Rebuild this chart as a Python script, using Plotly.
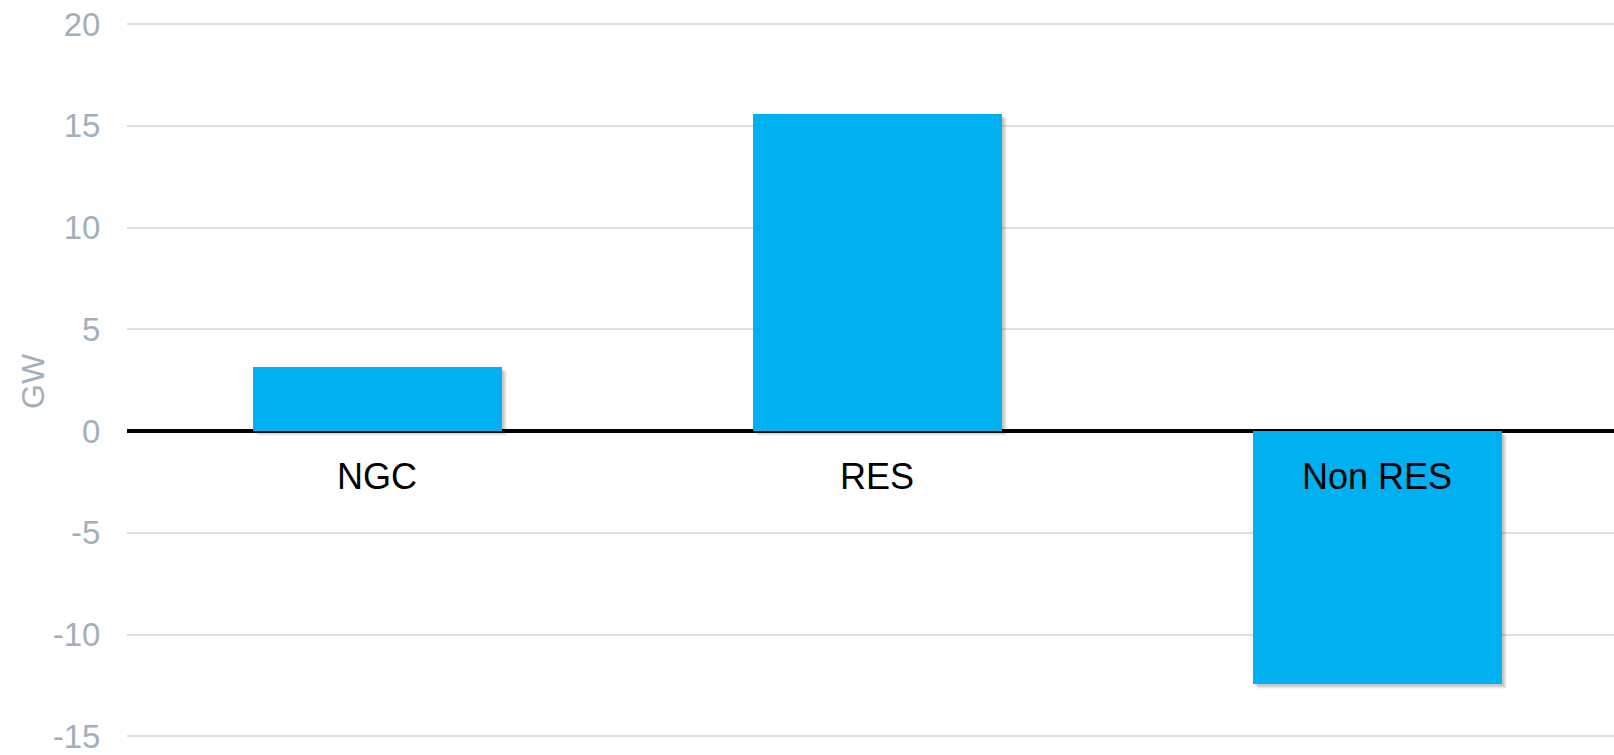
import plotly.graph_objects as go

# Net change in installed capacity by group
categories = ["NGC", "RES", "Non RES"]
values_gw = [3.13, 15.57, -12.45]

# Y axis ticks
tick_vals = [20, 15, 10, 5, 0, -5, -10, -15]
tick_labels = ["20", "15", "10", "5", "0", "-5", "-10", "-15"]

BAR_COLOR = "#00B0F0"
AXIS_TEXT = "#A2B0BB"
FONT = "Arial, Liberation Sans, sans-serif"

W, H = 1614, 755
LEFT = 127
X_RANGE = [-0.5, -0.5 + (W - LEFT) / 500]
Y_RANGE = [-15.72, 21.18]

fig = go.Figure()

# soft drop shadow behind each bar (shifted a few px right and down)
px_per_unit = H / (Y_RANGE[1] - Y_RANGE[0])
for dx, dy, alpha in [(5, 5, 0.05), (4, 4, 0.07), (3, 3, 0.09), (2, 2, 0.10)]:
    fig.add_trace(go.Bar(
        x=categories,
        y=values_gw,
        base=[-dy / px_per_unit] * len(values_gw),
        width=0.498,
        offset=-0.249 + dx / 500,
        marker=dict(color=f"rgba(60,60,60,{alpha})", line=dict(width=0)),
        hoverinfo="skip",
        showlegend=False,
    ))

fig.add_trace(go.Bar(
    x=categories,
    y=values_gw,
    width=0.498,
    marker=dict(color=BAR_COLOR, line=dict(width=0)),
    showlegend=False,
))

# category names sit just under the zero line
for cat in categories:
    fig.add_annotation(
        x=cat, y=0, xref="x", yref="y",
        text=cat, showarrow=False,
        yanchor="middle", yshift=-45,
        font=dict(family=FONT, size=36, color="#000000"),
    )

# y axis title
fig.add_annotation(
    x=(33 - LEFT) / (W - LEFT),
    y=1 - 383 / H,
    xref="paper", yref="paper",
    xanchor="center", yanchor="middle",
    text="GW", showarrow=False, textangle=-90,
    font=dict(family=FONT, size=32, color=AXIS_TEXT),
)

fig.update_layout(
    width=W, height=H,
    margin=dict(l=LEFT, r=0, t=0, b=0),
    paper_bgcolor="white",
    plot_bgcolor="white",
    barmode="overlay",
    bargap=0,
    xaxis=dict(
        type="category",
        range=X_RANGE,
        showticklabels=False,
        showgrid=False,
        zeroline=False,
        showline=False,
        fixedrange=True,
    ),
    yaxis=dict(
        range=Y_RANGE,
        tickvals=tick_vals,
        ticktext=tick_labels,
        tickfont=dict(family=FONT, size=33, color=AXIS_TEXT),
        ticklabeloverflow="allow",
        ticks="outside",
        ticklen=19,
        tickcolor="rgba(0,0,0,0)",
        showgrid=True,
        gridcolor="#E0E0E0",
        gridwidth=1.5,
        zeroline=True,
        zerolinecolor="#000000",
        zerolinewidth=3.5,
        showline=False,
        fixedrange=True,
    ),
)

fig.write_html("out.html", config={"displayModeBar": False})
